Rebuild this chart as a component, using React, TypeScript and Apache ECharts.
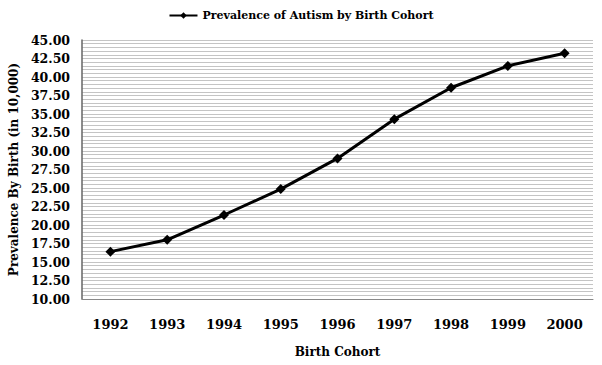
import React, { useEffect, useRef } from "react";
import * as echarts from "echarts";

const categories = ["1992", "1993", "1994", "1995", "1996", "1997", "1998", "1999", "2000"];
const prevalence = [16.4, 18.0, 21.35, 24.85, 29.0, 34.3, 38.55, 41.5, 43.2];
const seriesName = "Prevalence of Autism by Birth Cohort";
const yMin = 10;
const yMax = 45;
const yInterval = 2.5;

export default function App() {
  const ref = useRef<HTMLDivElement>(null);
  useEffect(() => {
    if (!ref.current) return;
    const chart = echarts.init(ref.current, null, { renderer: "svg" });
    const font = "'DejaVu Serif', 'Liberation Serif', serif";
    chart.setOption({
      animation: false,
      backgroundColor: "#ffffff",
      legend: {
        top: 5,
        left: "center",
        itemWidth: 28,
        itemHeight: 8,
        itemGap: 4,
        data: [{ name: seriesName }],
        textStyle: { fontFamily: font, fontWeight: "bold", fontSize: 11, color: "#000" },
      },
      grid: { left: 82, right: 9, top: 40, bottom: 66, containLabel: false },
      xAxis: {
        type: "category",
        data: categories,
        name: "Birth Cohort",
        nameLocation: "middle",
        nameGap: 47,
        nameTextStyle: { fontFamily: font, fontWeight: "bold", fontSize: 12, color: "#000" },
        axisLine: { lineStyle: { color: "#888888", width: 1 } },
        axisTick: { show: false },
        axisLabel: { fontFamily: font, fontWeight: "bold", fontSize: 13, color: "#000", margin: 19 },
      },
      yAxis: {
        type: "value",
        min: yMin,
        max: yMax,
        interval: yInterval,
        name: "Prevalence By Birth (in 10,000)",
        nameLocation: "middle",
        nameGap: 58,
        nameTextStyle: { fontFamily: font, fontWeight: "bold", fontSize: 12, color: "#000" },
        axisLine: { show: true, lineStyle: { color: "#666666", width: 1.5 } },
        axisTick: { show: false },
        axisLabel: {
          fontFamily: font,
          fontWeight: "bold",
          fontSize: 12.5,
          color: "#000",
          margin: 12,
          formatter: (v: number) => v.toFixed(2),
        },
        splitLine: { show: true, lineStyle: { color: "#c4c4c4", width: 1 } },
        minorTick: { show: false, splitNumber: 5 },
        minorSplitLine: { show: true, lineStyle: { color: "#c4c4c4", width: 1 } },
      },
      series: [
        {
          name: seriesName,
          type: "line",
          data: prevalence,
          symbol: "diamond",
          symbolSize: 10,
          lineStyle: { color: "#000", width: 3 },
          itemStyle: { color: "#000" },
        },
      ],
    });
    return () => chart.dispose();
  }, []);
  return (
    <div
      ref={ref}
      style={{ position: "fixed", left: 0, top: 0, width: 602, height: 365 }}
    />
  );
}
